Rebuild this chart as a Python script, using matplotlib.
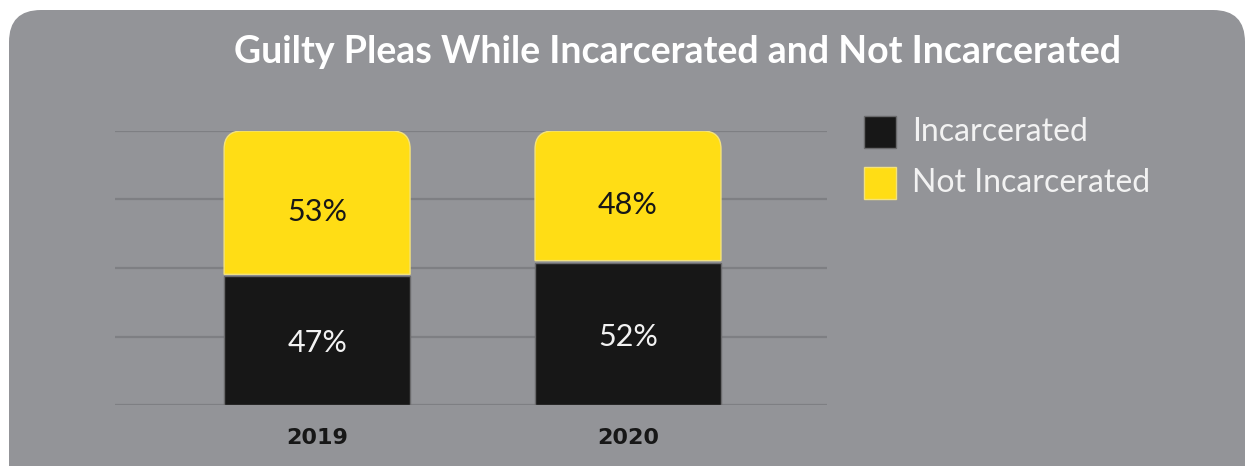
import numpy as np
import matplotlib
matplotlib.use('Agg')
import matplotlib.pyplot as plt
from matplotlib.patches import FancyBboxPatch, PathPatch, Rectangle
from matplotlib.path import Path

years = ['2019', '2020']
incarcerated = [47, 52]
not_incarcerated = [53, 48]
series_names = ['Incarcerated', 'Not Incarcerated']

GRAY = '#939498'
GRID = '#7e7f83'
YELLOW = '#ffdd15'
BLACK = '#171717'
W, H = 1247, 466

plt.rcParams['font.family'] = ['Lato', 'DejaVu Sans']

fig = plt.figure(figsize=(W / 100, H / 100), dpi=100)
fig.patch.set_facecolor('white')

# background panel with rounded corners, in pixel units
bg = fig.add_axes([0, 0, 1, 1], zorder=0)
bg.set_xlim(0, W)
bg.set_ylim(H, 0)
bg.axis('off')
bg.add_patch(FancyBboxPatch((9, 10), W - 11, H + 40,
                            boxstyle='round,pad=0,rounding_size=32',
                            fc=GRAY, ec='none'))

ax = fig.add_axes([115 / W, 1 - 405 / H, (827 - 115) / W, 274 / H], zorder=1)
ax.patch.set_alpha(0)
ax.set_xlim(-0.65, 1.64)
ax.set_ylim(0, 100)
for yv in [0, 25, 50, 75, 100]:
    ax.axhline(yv, color=GRID, lw=1.6, zorder=0)
for s in ax.spines.values():
    s.set_visible(False)
ax.set_yticks([])
ax.set_xticks([])

x = np.arange(len(years))
bw = 0.598
ax.bar(x, incarcerated, width=bw, color=BLACK, edgecolor='#6a6a6c', lw=1, zorder=2)

# yellow segments with rounded top corners
rx = 18 / 311
ry = 18 / 2.74
for xi, lo, h in zip(x, incarcerated, not_incarcerated):
    x0, x1 = xi - bw / 2, xi + bw / 2
    y0, y1 = lo + 0.7, lo + h
    verts = [(x0, y0), (x0, y1 - ry), (x0, y1), (x0 + rx, y1),
             (x1 - rx, y1), (x1, y1), (x1, y1 - ry), (x1, y0), (x0, y0)]
    codes = [Path.MOVETO, Path.LINETO, Path.CURVE3, Path.CURVE3,
             Path.LINETO, Path.CURVE3, Path.CURVE3, Path.LINETO, Path.CLOSEPOLY]
    ax.add_patch(PathPatch(Path(verts, codes), fc=YELLOW, ec='#f3e27c', lw=1, zorder=2))

for xi, a, b in zip(x, incarcerated, not_incarcerated):
    ax.text(xi, a / 2 - 1, f'{a}%', ha='center', va='center', color='#f2f2f2',
            fontsize=22, zorder=3)
    ax.text(xi, a + b / 2 - 3, f'{b}%', ha='center', va='center', color=BLACK,
            fontsize=22, zorder=3)
    ax.text(xi, -12, years[xi], ha='center', va='center', color=BLACK,
            fontsize=16, fontweight='bold', family='DejaVu Sans')

fig.text(677 / W, 1 - 52 / H, 'Guilty Pleas While Incarcerated and Not Incarcerated',
         ha='center', va='center', color='white', fontsize=27, fontweight='bold')

# legend
for i, (name, col) in enumerate(zip(series_names, [BLACK, YELLOW])):
    yc = 132 + i * 51
    bg.add_patch(Rectangle((864, yc - 16), 32, 32, fc=col,
                           ec='#6a6a6c' if i == 0 else '#f3e27c', lw=1))
    bg.text(912, yc, name, ha='left', va='center', color='#f2f2f2',
            fontsize=23)

fig.savefig('out.png', dpi=100, facecolor='white')
